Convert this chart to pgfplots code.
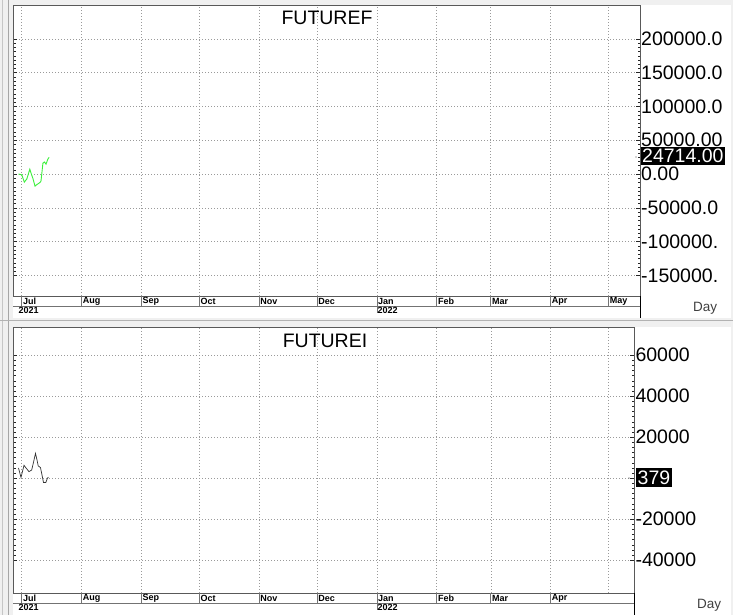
\documentclass[border=0pt]{standalone}
\usepackage{fontspec}
\setmainfont{Liberation Sans}
\usepackage{pgfplots}
\pgfplotsset{compat=1.18}

\definecolor{winbg}{HTML}{F0F0F0}
\definecolor{futgreen}{HTML}{3CF03C}
\definecolor{gridgray}{HTML}{9A9A9A}

\newcommand\bigfont{\fontsize{19.5}{20}\selectfont}
\newcommand\monfont{\fontsize{9}{9}\selectfont\bfseries}

% common look of both panels
\pgfplotsset{panel/.style={
  scale only axis, anchor=south west, clip mode=individual,
  xmin=-4.35,
  xtick={0,31,62,92,123,153,184,215,243,274,304},
  xticklabels={}, xtick style={draw=none},
  ytick pos=both, yticklabel pos=right,
  tick align=inside, major tick length=4pt, minor tick length=2.5pt,
  minor y tick num=7,
  ytick style={black!85},
  grid=major, grid style={gridgray, dash pattern=on 1pt off 2pt},
  axis line style={black!65},
  yticklabel style={anchor=west, inner sep=1pt, font=\bigfont},
  scaled y ticks=false,
}}

\begin{document}
\begin{tikzpicture}[x=1pt,y=1pt]
\useasboundingbox (0,0) rectangle (733,615);
\fill[winbg] (0,0) rectangle (733,615);
\fill[white] (13.3,610) rectangle (731,297);
\fill[white] (13.3,288) rectangle (731,0);
\draw[gray!45] (2,0) -- (2,615);
\draw[gray!70] (8,0) -- (8,615);
\draw[gray!60] (0,295) -- (733,295);

% ---- top panel: FUTUREF
\begin{axis}[panel, at={(13.3pt,319pt)}, width=626.7pt, height=291pt,
  xmax=320.4, ymin=-180500, ymax=250000,
  ytick={-150000,-100000,-50000,0,50000,100000,150000,200000},
  yticklabels={-150000.,-100000.,-50000.0,0.00,50000.00,100000.0,150000.0,200000.0}]
\addplot[futgreen, line width=0.9pt, mark=none] coordinates {
  (-1.66,0) (0.05,-1200) (1.35,-12000) (2.64,-7500) (4.2,7000) (5.0,0)
  (5.85,-7000) (6.9,-18000) (7.8,-15800) (9.5,-12500) (10.0,-10500)
  (11.0,16000) (11.8,17800) (12.6,14500) (13.5,21500) (14.2,24714)};
\end{axis}

% ---- bottom panel: FUTUREI
\begin{axis}[panel, at={(13.3pt,22pt)}, width=621pt, height=266pt,
  xmax=317.4, ymin=-56100, ymax=73660,
  ytick={-40000,-20000,0,20000,40000,60000},
  yticklabels={-40000,-20000,,20000,40000,60000}]
\addplot[black!80, line width=0.7pt, mark=none] coordinates {
  (-1.66,4900) (-0.36,250) (1.19,6200) (2.23,4900) (3.78,3100) (5.18,3900)
  (6.0,7200) (7.15,12000) (7.93,8800) (8.55,5900) (9.74,5100) (10.62,1000)
  (11.3,-2200) (12.5,-2200) (13.37,0) (13.8,379)};
\end{axis}

% month strips
\foreach \d/\m in {0/Jul,31/Aug,62/Sep,92/Oct,123/Nov,153/Dec,184/Jan,215/Feb,243/Mar,274/Apr,304/May} {
  \pgfmathsetmacro\px{21.69+1.9298*\d}
  \draw[black!55] (\px,319) -- (\px,309);
  \node[anchor=west, inner sep=0pt, font=\monfont] at (\px+1.2,313.5) {\m};
}
\draw[black!55] (13.3,309) -- (640,309);
\draw[black!55] (376.8,309) -- (376.8,302);
\node[anchor=west, inner sep=0pt, font=\monfont] at (18.5,304.3) {2021};
\node[anchor=west, inner sep=0pt, font=\monfont] at (377.5,304.3) {2022};
\draw[black] (640,319) -- (640,297);

\foreach \d/\m in {0/Jul,31/Aug,62/Sep,92/Oct,123/Nov,153/Dec,184/Jan,215/Feb,243/Mar,274/Apr} {
  \pgfmathsetmacro\px{21.69+1.9298*\d}
  \draw[black!55] (\px,22) -- (\px,12);
  \node[anchor=west, inner sep=0pt, font=\monfont] at (\px+1.2,16.5) {\m};
}
\draw[black!55] (13.3,12) -- (634.3,12);
\draw[black!55] (376.8,12) -- (376.8,5);
\node[anchor=west, inner sep=0pt, font=\monfont] at (18.5,7.3) {2021};
\node[anchor=west, inner sep=0pt, font=\monfont] at (377.5,7.3) {2022};
\draw[black] (634.3,22) -- (634.3,0);

% titles, unit labels, last-value boxes
\node[font=\bigfont] at (327,597) {FUTUREF};
\node[font=\bigfont] at (325,274) {FUTUREI};
\node[font=\fontsize{13.5}{14}\selectfont, text=black!75] at (705,307) {Day};
\node[font=\fontsize{13.5}{14}\selectfont, text=black!75] at (709,10) {Day};
\node[fill=black, text=white, anchor=west, inner xsep=1pt, inner ysep=2pt,
  text height=14pt, text depth=0pt, font=\bigfont] at (641,459) {24714.00};
\node[fill=black, text=white, anchor=west, inner xsep=1.5pt, inner ysep=2.5pt,
  text height=14pt, text depth=0pt, font=\bigfont] at (636,137) {379};
\fill[black!70] (636,458) circle (0.6);
\fill[black!70] (629,137) circle (0.6);
\end{tikzpicture}
\end{document}
